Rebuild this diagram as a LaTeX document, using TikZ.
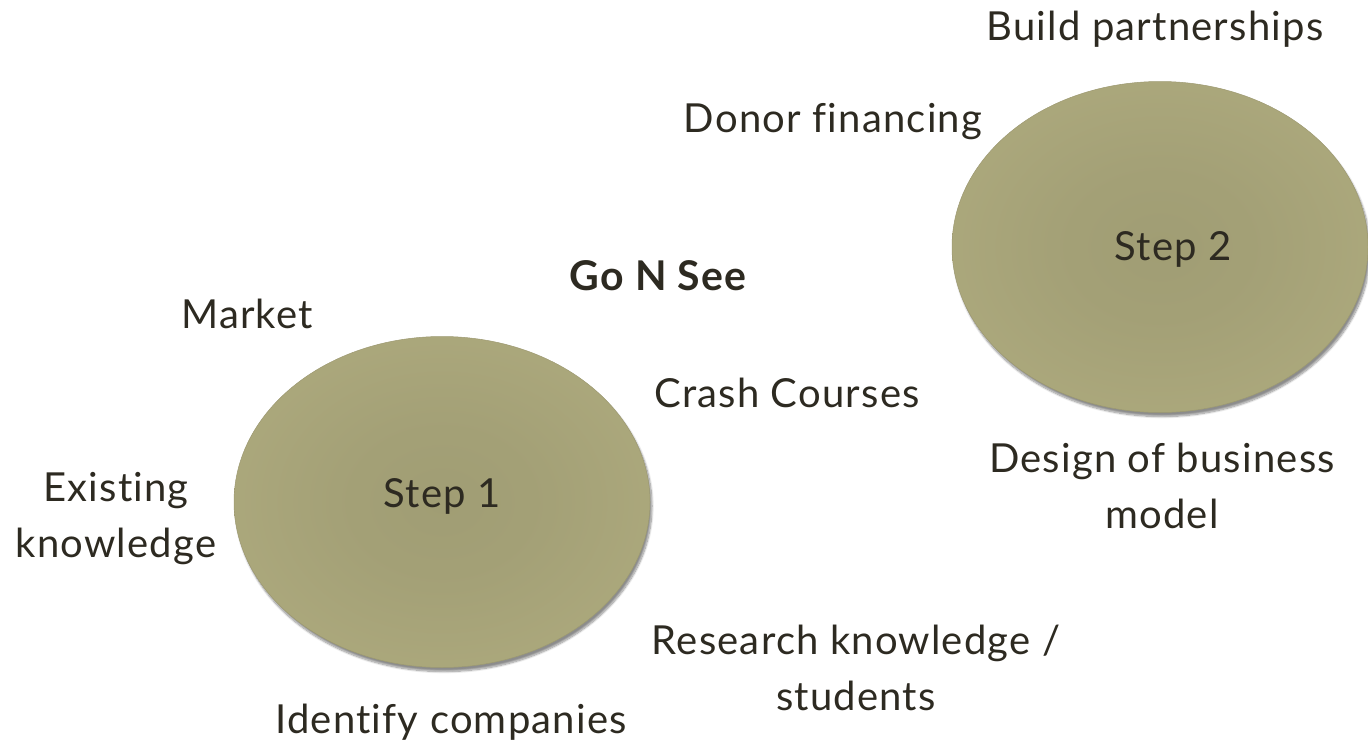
\documentclass[tikz,border=0pt]{standalone}
\usepackage{fontspec}
\setmainfont{Lato}[LetterSpace=3, Ligatures={NoCommon}]
\usetikzlibrary{shapes.geometric,shadows.blur}

\definecolor{blobin}{RGB}{160,157,116}
\definecolor{blobout}{RGB}{184,180,133}
\definecolor{inkdark}{RGB}{45,42,33}
\pgfdeclareradialshading{blobshade}{\pgfpoint{0bp}{0bp}}{color(0bp)=(blobin); color(12bp)=(blobin!85!blobout); color(50bp)=(blobout)}

\tikzset{
  stepblob/.style={shape=ellipse, draw=blobout!85!black, line width=0.5pt,
    shading=blobshade, minimum width=416pt, minimum height=331pt, inner sep=0pt,
    blur shadow={shadow blur steps=10, shadow xshift=2pt, shadow yshift=-4pt, shadow opacity=45}},
  lbl/.style={text=inkdark, font=\fontsize{40}{56}\selectfont, align=center,
    anchor=base, inner sep=0pt}
}

\begin{document}
\begin{tikzpicture}[x=1pt,y=-1pt]
  \useasboundingbox (0,0) rectangle (1368,745);
  % the two steps
  \node[stepblob] (s1) at (442,502) {};
  \node[stepblob] (s2) at (1160,247) {};
  \node[lbl] (s1txt) at (442,507) {Step 1};
  \node[lbl] (s2txt) at (1173,260) {Step 2};
  % around step 1 (multi-line labels sit on their last line)
  \node[lbl] (market) at (247,328) {Market};
  \node[lbl] (exist) at (116,557) {Existing\\knowledge};
  \node[lbl] (ident) at (451,733) {Identify companies};
  \node[lbl] (crash) at (787,407) {Crash Courses};
  \node[lbl] (resrch) at (856,710) {Research knowledge /\\students};
  \node[lbl, font=\fontsize{41}{56}\selectfont\bfseries] (gonsee) at (658,290) {Go N See};
  % around step 2
  \node[lbl] (donor) at (833,132) {Donor financing};
  \node[lbl] (build) at (1155,40) {Build partnerships};
  \node[lbl] (design) at (1162,528) {Design of business\\model};
\end{tikzpicture}
\end{document}
